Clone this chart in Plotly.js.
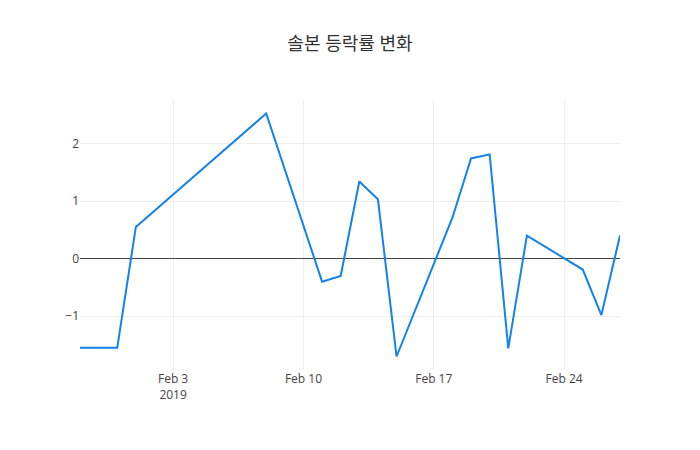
<!DOCTYPE html>
<html>
<head>
<meta charset="utf-8">
<script src="https://cdn.plot.ly/plotly-3.0.1.min.js"></script>
<style>
  html, body { margin: 0; padding: 0; background: #fff; }
  #chart { width: 700px; height: 450px; }
</style>
</head>
<body>
<div id="chart"></div>
<script>
  // 솔본 daily change rate (%), Jan 29 – Feb 27 2019
  var dates = [
    "2019-01-29", "2019-01-30", "2019-01-31", "2019-02-01", "2019-02-08",
    "2019-02-11", "2019-02-12", "2019-02-13", "2019-02-14", "2019-02-15",
    "2019-02-18", "2019-02-19", "2019-02-20", "2019-02-21", "2019-02-22",
    "2019-02-25", "2019-02-26", "2019-02-27"
  ];
  var changeRate = [
    -1.55, -1.55, -1.55, 0.55, 2.52,
    -0.40, -0.30, 1.34, 1.03, -1.70,
    0.71, 1.74, 1.81, -1.56, 0.40,
    -0.19, -0.98, 0.40
  ];
  var chartTitle = "솔본 등락률 변화";

  var trace = {
    x: dates, y: changeRate, type: "scatter", mode: "lines",
    line: { color: "#1482e8", width: 2 }
  };

  var layout = {
    width: 700, height: 450,
    font: { family: '"Open Sans", "Noto Sans CJK KR", sans-serif', color: "#444", size: 12 },
    title: { text: chartTitle, font: { size: 18, color: "#333" } },
    paper_bgcolor: "#fff", plot_bgcolor: "#fff",
    margin: { l: 80, r: 80, t: 100, b: 80 },
    xaxis: { type: "date", gridcolor: "#eee", showline: false, zeroline: false },
    yaxis: { gridcolor: "#eee", zeroline: true, zerolinecolor: "#444", zerolinewidth: 1 },
    showlegend: false
  };

  Plotly.newPlot("chart", [trace], layout, { displayModeBar: false });
</script>
</body>
</html>
